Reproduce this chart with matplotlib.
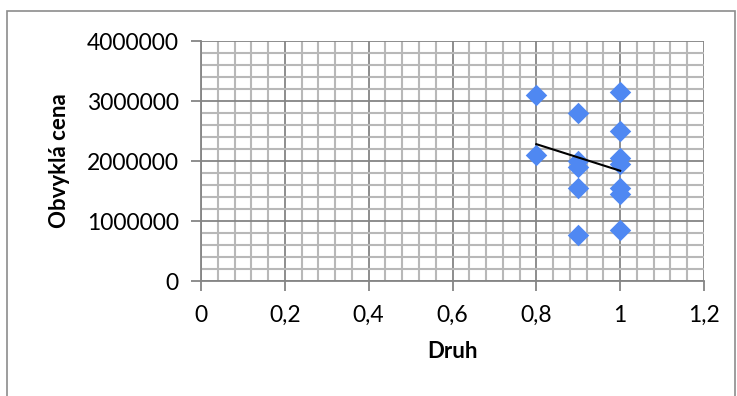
import matplotlib
matplotlib.use('Agg')
import matplotlib.pyplot as plt
from matplotlib.ticker import MultipleLocator, FuncFormatter
from matplotlib.patches import Rectangle
import numpy as np

# data
druh = [0.8, 0.8,
        0.9, 0.9, 0.9, 0.9, 0.9,
        1.0, 1.0, 1.0, 1.0, 1.0, 1.0, 1.0]
cena = [3100000, 2100000,
        2800000, 2000000, 1900000, 1550000, 770000,
        3150000, 2500000, 2050000, 1950000, 1550000, 1450000, 850000]

plt.rcParams['font.family'] = ['Lato', 'DejaVu Sans']

fig = plt.figure(figsize=(7.37, 3.96), dpi=100)
fig.patches.append(Rectangle((7 / 737, -0.05), 728 / 737, 1 - 11 / 396 + 0.05,
                             transform=fig.transFigure, fill=False,
                             edgecolor='#8c8c8c', linewidth=1.2))
ax = fig.add_axes([201 / 737, 1 - 281 / 396, 503 / 737, 240 / 396])

ax.scatter(druh, cena, marker='D', s=120, color='#4f88f2', zorder=3, linewidths=0)

# linear trend line
k, q = np.polyfit(druh, cena, 1)
xs = np.array([min(druh), max(druh)])
ax.plot(xs, k * xs + q, color='black', linewidth=1.5, zorder=4)

ax.set_xlim(0, 1.2)
ax.set_ylim(0, 4000000)
ax.xaxis.set_major_locator(MultipleLocator(0.2))
ax.xaxis.set_minor_locator(MultipleLocator(0.04))
ax.yaxis.set_major_locator(MultipleLocator(1000000))
ax.yaxis.set_minor_locator(MultipleLocator(200000))
ax.xaxis.set_major_formatter(FuncFormatter(lambda v, p: ('%g' % round(v, 1)).replace('.', ',')))
ax.yaxis.set_major_formatter(FuncFormatter(lambda v, p: '%d' % v))

ax.grid(which='minor', color='#b8b8b8', linewidth=1.5)
ax.grid(which='major', color='#858585', linewidth=1.3)
ax.set_axisbelow(True)

for s in ['top', 'right']:
    ax.spines[s].set_visible(False)
ax.spines['left'].set_color('#858585')
ax.spines['bottom'].set_color('#858585')
ax.spines['left'].set_linewidth(1.3)
ax.spines['bottom'].set_linewidth(1.3)

ax.tick_params(which='major', length=7, width=1.3, color='#858585',
               labelsize=16.5)
ax.tick_params(axis='x', which='major', pad=10)
ax.tick_params(axis='y', which='major', pad=9)
ax.tick_params(which='minor', length=0)

ax.set_xlabel('Druh', fontsize=16, fontweight='bold', labelpad=11)
ax.set_ylabel('Obvyklá cena', fontsize=16, fontweight='bold', labelpad=12)

fig.savefig('out.png', dpi=100)
